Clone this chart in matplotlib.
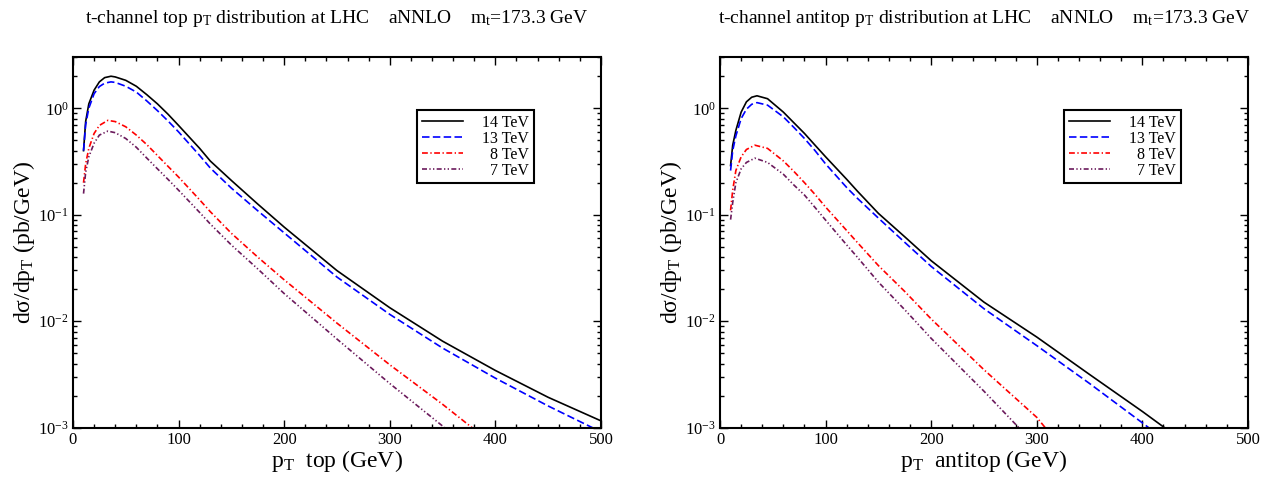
import numpy as np
import matplotlib
matplotlib.use("Agg")
import matplotlib.pyplot as plt
from matplotlib.ticker import MultipleLocator, LogLocator

plt.rcParams["font.family"] = ["Liberation Serif", "DejaVu Serif"]
plt.rcParams["mathtext.fontset"] = "custom"
plt.rcParams["mathtext.rm"] = "Liberation Serif"
plt.rcParams["mathtext.it"] = "Liberation Serif:italic"

# ----------------------------
# Data (pT in GeV, dsigma/dpT in pb/GeV)
# ----------------------------
energies = ["14 TeV", "13 TeV", "  8 TeV", "  7 TeV"]

# top quark
top14_x = [10, 12, 15, 20, 25, 30, 36, 40, 50, 60, 70, 80, 90, 100, 120, 130, 150, 175, 200,
           250, 300, 350, 400, 450, 500]
top14_y = [0.40, 0.75, 1.10, 1.48, 1.77, 1.94, 2.00, 1.97, 1.83, 1.61, 1.34, 1.10, 0.88, 0.69,
           0.42, 0.32, 0.21, 0.126, 0.0766, 0.0299, 0.0134, 0.0065, 0.00345, 0.00193, 0.00116]
top13_x = [10, 12, 15, 20, 25, 30, 36, 40, 50, 60, 70, 80, 90, 100, 120, 130, 150, 175, 200,
           250, 300, 350, 400, 450, 492, 500]
top13_y = [0.40, 0.70, 1.00, 1.37, 1.60, 1.72, 1.77, 1.75, 1.61, 1.42, 1.17, 0.95, 0.76, 0.60,
           0.36, 0.275, 0.178, 0.109, 0.0676, 0.026, 0.0116, 0.0056, 0.00292, 0.0016, 0.001, 0.00092]
top8_x = [10, 12, 15, 20, 25, 33, 40, 50, 60, 70, 80, 90, 100, 120, 130, 150, 175, 200,
          250, 300, 350, 378, 385]
top8_y = [0.20, 0.30, 0.42, 0.58, 0.69, 0.77, 0.75, 0.67, 0.56, 0.455, 0.36, 0.285, 0.226,
          0.138, 0.107, 0.067, 0.040, 0.0245, 0.0096, 0.0039, 0.00166, 0.001, 0.00088]
top7_x = [10, 12, 15, 20, 25, 33, 40, 50, 60, 70, 80, 90, 100, 120, 130, 150, 175, 200,
          250, 300, 352, 360]
top7_y = [0.158, 0.25, 0.35, 0.47, 0.56, 0.61, 0.59, 0.52, 0.43, 0.34, 0.27, 0.215, 0.17,
          0.105, 0.082, 0.052, 0.031, 0.0182, 0.0068, 0.0026, 0.001, 0.00088]

# antitop quark
anti14_x = [10, 12, 15, 20, 25, 30, 35, 45, 60, 70, 80, 90, 100, 120, 130, 150, 175, 200,
            250, 300, 350, 400, 421, 430]
anti14_y = [0.29, 0.45, 0.62, 0.92, 1.15, 1.27, 1.31, 1.23, 0.92, 0.73, 0.58, 0.45, 0.35,
            0.215, 0.167, 0.103, 0.062, 0.037, 0.0151, 0.0071, 0.00316, 0.00142, 0.001, 0.00088]
anti13_x = [10, 12, 15, 20, 25, 30, 35, 45, 60, 70, 80, 90, 100, 120, 130, 150, 175, 200,
            250, 300, 350, 400, 406, 415]
anti13_y = [0.26, 0.40, 0.55, 0.80, 0.98, 1.09, 1.13, 1.07, 0.83, 0.66, 0.52, 0.40, 0.30,
            0.18, 0.143, 0.093, 0.055, 0.0327, 0.0131, 0.0059, 0.0026, 0.00111, 0.001, 0.00087]
anti8_x = [10, 12, 15, 20, 25, 33, 45, 60, 70, 80, 90, 100, 120, 130, 150, 175, 200,
           250, 300, 308, 315]
anti8_y = [0.11, 0.17, 0.26, 0.35, 0.41, 0.45, 0.42, 0.32, 0.255, 0.20, 0.155, 0.118,
           0.071, 0.055, 0.0333, 0.019, 0.0105, 0.0035, 0.00125, 0.001, 0.00085]
anti7_x = [10, 12, 15, 20, 25, 33, 45, 60, 70, 80, 90, 100, 120, 130, 150, 175, 200,
           250, 283, 290]
anti7_y = [0.09, 0.13, 0.20, 0.27, 0.31, 0.34, 0.31, 0.24, 0.19, 0.153, 0.117, 0.089,
           0.052, 0.040, 0.0233, 0.0128, 0.0069, 0.0022, 0.001, 0.00085]

colors = ["black", "#0000ff", "#ff0000", "#6b1a5c"]
styles = ["-", (0, (4.5, 2.0)), (0, (3.5, 1.5, 0.8, 1.5)), (0, (3.0, 1.4, 0.8, 1.4, 0.8, 1.4))]

panels = [
    {
        "title": "t-channel top p$_\\mathrm{T}$ distribution at LHC    aNNLO    m$_\\mathrm{t}$=173.3 GeV",
        "xlabel": "p$_\\mathrm{T}$  top (GeV)",
        "series": [(top14_x, top14_y), (top13_x, top13_y), (top8_x, top8_y), (top7_x, top7_y)],
        "rect": [0.0571, 0.1145, 0.4131, 0.7665],
    },
    {
        "title": "t-channel antitop p$_\\mathrm{T}$ distribution at LHC    aNNLO    m$_\\mathrm{t}$=173.3 GeV",
        "xlabel": "p$_\\mathrm{T}$  antitop (GeV)",
        "series": [(anti14_x, anti14_y), (anti13_x, anti13_y), (anti8_x, anti8_y), (anti7_x, anti7_y)],
        "rect": [0.5634, 0.1145, 0.4131, 0.7665],
    },
]

fig = plt.figure(figsize=(12.78, 4.83), dpi=100)

for p in panels:
    ax = fig.add_axes(p["rect"])
    for (xs, ys), lab, c, ls in zip(p["series"], energies, colors, styles):
        ax.plot(xs, ys, color=c, linestyle=ls, lw=1.2, label=lab)

    ax.set_yscale("log")
    ax.set_xlim(0, 500)
    ax.set_ylim(1e-3, 3.0)
    ax.xaxis.set_major_locator(MultipleLocator(100))
    ax.xaxis.set_minor_locator(MultipleLocator(20))
    ax.yaxis.set_major_locator(LogLocator(base=10))
    ax.yaxis.set_minor_locator(LogLocator(base=10, subs=np.arange(2, 10)))

    ax.tick_params(which="both", direction="in", top=True, right=True, width=1.0)
    ax.tick_params(which="major", length=6)
    ax.tick_params(which="minor", length=3)
    ax.tick_params(axis="x", labelsize=12, pad=3)
    ax.tick_params(axis="y", labelsize=12, pad=3)
    for s in ax.spines.values():
        s.set_linewidth(1.5)

    ax.set_xlabel(p["xlabel"], fontsize=17, labelpad=0)
    ax.set_ylabel("d\u03c3/dp$_\\mathrm{T}$ (pb/GeV)", fontsize=17, labelpad=1)
    ax.set_title(p["title"], fontsize=14, pad=25)

    leg = ax.legend(loc="upper left", bbox_to_anchor=(0.652, 0.858), borderaxespad=0,
                    fontsize=11.5, handlelength=2.6, labelspacing=0.0, handletextpad=1.2,
                    borderpad=0.28, fancybox=False, framealpha=1, edgecolor="black")
    leg.get_frame().set_linewidth(1.5)

fig.savefig("out.png", dpi=100)
